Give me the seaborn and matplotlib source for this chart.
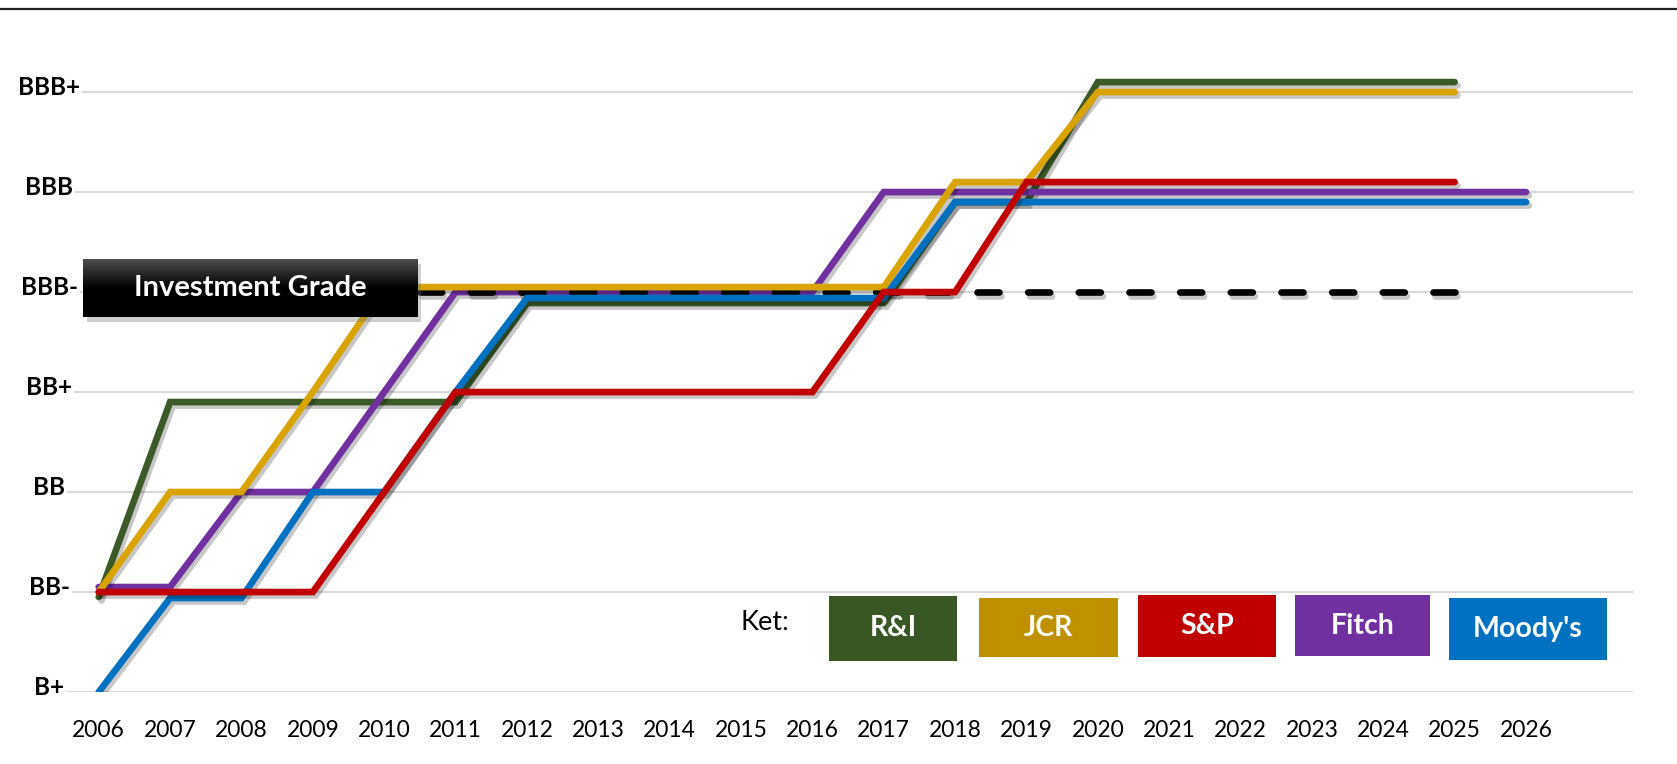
import numpy as np
import pandas as pd
import matplotlib
matplotlib.use("Agg")
import matplotlib.pyplot as plt
import seaborn as sns
from matplotlib import patheffects as pe
from matplotlib.patches import Rectangle
from matplotlib.colors import LinearSegmentedColormap
import matplotlib.transforms as mtransforms

# ---------------- data ----------------
years = list(range(2006, 2027))
rating_labels = ["B+", "BB-", "BB", "BB+", "BBB-", "BBB", "BBB+"]
agencies = ["R&I", "JCR", "S&P", "Fitch", "Moody's"]

# rating notch index (B+=0 ... BBB+=6), small offsets keep overlapping lines visible
ri      = [0.95, 2.9, 2.9, 2.9, 2.9, 2.9, 3.89, 3.89, 3.89, 3.89, 3.89, 3.89,
           4.9, 4.9, 6.1, 6.1, 6.1, 6.1, 6.1, 6.1]
jcr     = [1.0, 2.0, 2.0, 3.0, 4.05, 4.05, 4.05, 4.05, 4.05, 4.05, 4.05, 4.05,
           5.1, 5.1, 6.0, 6.0, 6.0, 6.0, 6.0, 6.0]
sp      = [1.0, 1.0, 1.0, 1.0, 2.0, 3.0, 3.0, 3.0, 3.0, 3.0, 3.0, 4.0,
           4.0, 5.1, 5.1, 5.1, 5.1, 5.1, 5.1, 5.1]
fitch   = [1.05, 1.05, 2.0, 2.0, 3.0, 4.0, 4.0, 4.0, 4.0, 4.0, 4.0, 5.0,
           5.0, 5.0, 5.0, 5.0, 5.0, 5.0, 5.0, 5.0, 5.0]
moodys  = [0.0, 0.94, 0.94, 2.0, 2.0, 3.0, 3.94, 3.94, 3.94, 3.94, 3.94, 3.94,
           4.9, 4.9, 4.9, 4.9, 4.9, 4.9, 4.9, 4.9, 4.9]
investment_grade = [4.0] * 20  # BBB- threshold, 2006-2025

series = {"R&I": ri, "JCR": jcr, "S&P": sp, "Fitch": fitch, "Moody's": moodys}
line_colors = {"R&I": "#3B5A27", "JCR": "#D9A400", "S&P": "#C00000",
               "Fitch": "#7030A0", "Moody's": "#0070C0"}
box_colors = {"R&I": "#385723", "JCR": "#BF9000", "S&P": "#C00000",
              "Fitch": "#7030A0", "Moody's": "#0070C0"}
draw_order = ["R&I", "Fitch", "IG", "JCR", "Moody's", "S&P"]

# ---------------- style ----------------
sns.set_theme(style="white")
plt.rcParams["font.family"] = ["Lato", "DejaVu Sans"]

fig = plt.figure(figsize=(16.77, 7.64), dpi=100)
ax = fig.add_axes([0.0376, 0.0942, 0.9362, 0.8638])

shadow = [pe.SimpleLineShadow(offset=(2.0, -2.5), shadow_color="black", alpha=0.22),
          pe.Normal()]

for z, name in enumerate(draw_order):
    if name == "IG":
        n = len(investment_grade)
        # drawn from the right end so the dash pattern starts at 2025
        df = pd.DataFrame({"year": years[:n][::-1], "v": investment_grade[::-1]})
        sns.lineplot(data=df, x="year", y="v", ax=ax, color="black", lw=4.8,
                     sort=False, zorder=3 + z)
        ln = ax.lines[-1]
        ln.set_linestyle((0, (3.3, 4.3)))
        ln.set_dash_capstyle("round")
    else:
        vals = series[name]
        df = pd.DataFrame({"year": years[:len(vals)], "v": vals})
        sns.lineplot(data=df, x="year", y="v", ax=ax, color=line_colors[name],
                     lw=4.8, zorder=3 + z)
        ln = ax.lines[-1]
        ln.set_solid_capstyle("round")
        ln.set_solid_joinstyle("miter")
    ln.set_path_effects(shadow)

# ---------------- axes ----------------
ax.set_xlim(2005.5, 2027.5)
ax.set_ylim(0, 6.6)
ax.set_xlabel("")
ax.set_ylabel("")
for s in ax.spines.values():
    s.set_visible(False)
ax.yaxis.grid(True, color="#D9D9D9", lw=1.6)
ax.xaxis.grid(False)
ax.set_axisbelow(True)

ax.set_xticks(years)
ax.set_xticklabels([str(y) for y in years], fontsize=16.5, color="black")
ax.set_yticks(range(len(rating_labels)))
ax.set_yticklabels(rating_labels, fontsize=17.5, fontweight="bold", color="black",
                   ha="center")
ax.tick_params(axis="x", length=0, pad=20)
ax.tick_params(axis="y", length=0, pad=10)
off = mtransforms.ScaledTranslation(0, 5 / 72, fig.dpi_scale_trans)
for lab in ax.get_yticklabels():
    lab.set_transform(lab.get_transform() + off)
    lab.set_bbox(dict(facecolor="white", edgecolor="none", pad=1.5))

# ---------------- Investment Grade box ----------------
bx0, bx1, by0, by1 = 2005.78, 2010.47, 3.75, 4.33
ax.add_patch(Rectangle((bx0 + 0.05, by0 - 0.05), bx1 - bx0, by1 - by0,
                       facecolor="#777777", alpha=0.35, edgecolor="none", zorder=9))
grad_cmap = LinearSegmentedColormap.from_list("g", ["#4d4d4d", "#000000", "#000000"])
grad = np.linspace(0, 1, 100).reshape(-1, 1)
ax.imshow(grad, cmap=grad_cmap, extent=[bx0, bx1, by0, by1], origin="upper",
          aspect="auto", zorder=10, interpolation="bilinear")
ax.text((bx0 + bx1) / 2, (by0 + by1) / 2, "Investment Grade", color="white",
        fontsize=21, fontweight="bold", ha="center", va="center", zorder=11)
ax.set_xlim(2005.5, 2027.5)
ax.set_ylim(0, 6.6)

# ---------------- custom key ----------------
W, H = 1677.0, 764.0
fig.text(765 / W, 1 - 623 / H, "Ket:", fontsize=19.5, color="black",
         ha="center", va="center")
key_boxes = {"R&I": (829, 957, 596, 661), "JCR": (979, 1118, 598, 657),
             "S&P": (1138, 1276, 595, 657), "Fitch": (1295, 1430, 595, 656),
             "Moody's": (1449, 1607, 598, 660)}
for name in agencies:
    x0, x1, y0, y1 = key_boxes[name]
    fig.patches.append(Rectangle((x0 / W, 1 - y1 / H), (x1 - x0) / W, (y1 - y0) / H,
                                 transform=fig.transFigure, facecolor=box_colors[name],
                                 edgecolor="none", zorder=5))
    fig.text((x0 + x1) / 2 / W, 1 - (y0 + y1) / 2 / H, name, fontsize=20.5,
             fontweight="bold", color="white", ha="center", va="center", zorder=6)

# top rule
fig.add_artist(plt.Line2D([0, 1], [1 - 9 / H, 1 - 9 / H], transform=fig.transFigure,
                          color="#222222", lw=1.6))

fig.savefig("out.png", dpi=100)
